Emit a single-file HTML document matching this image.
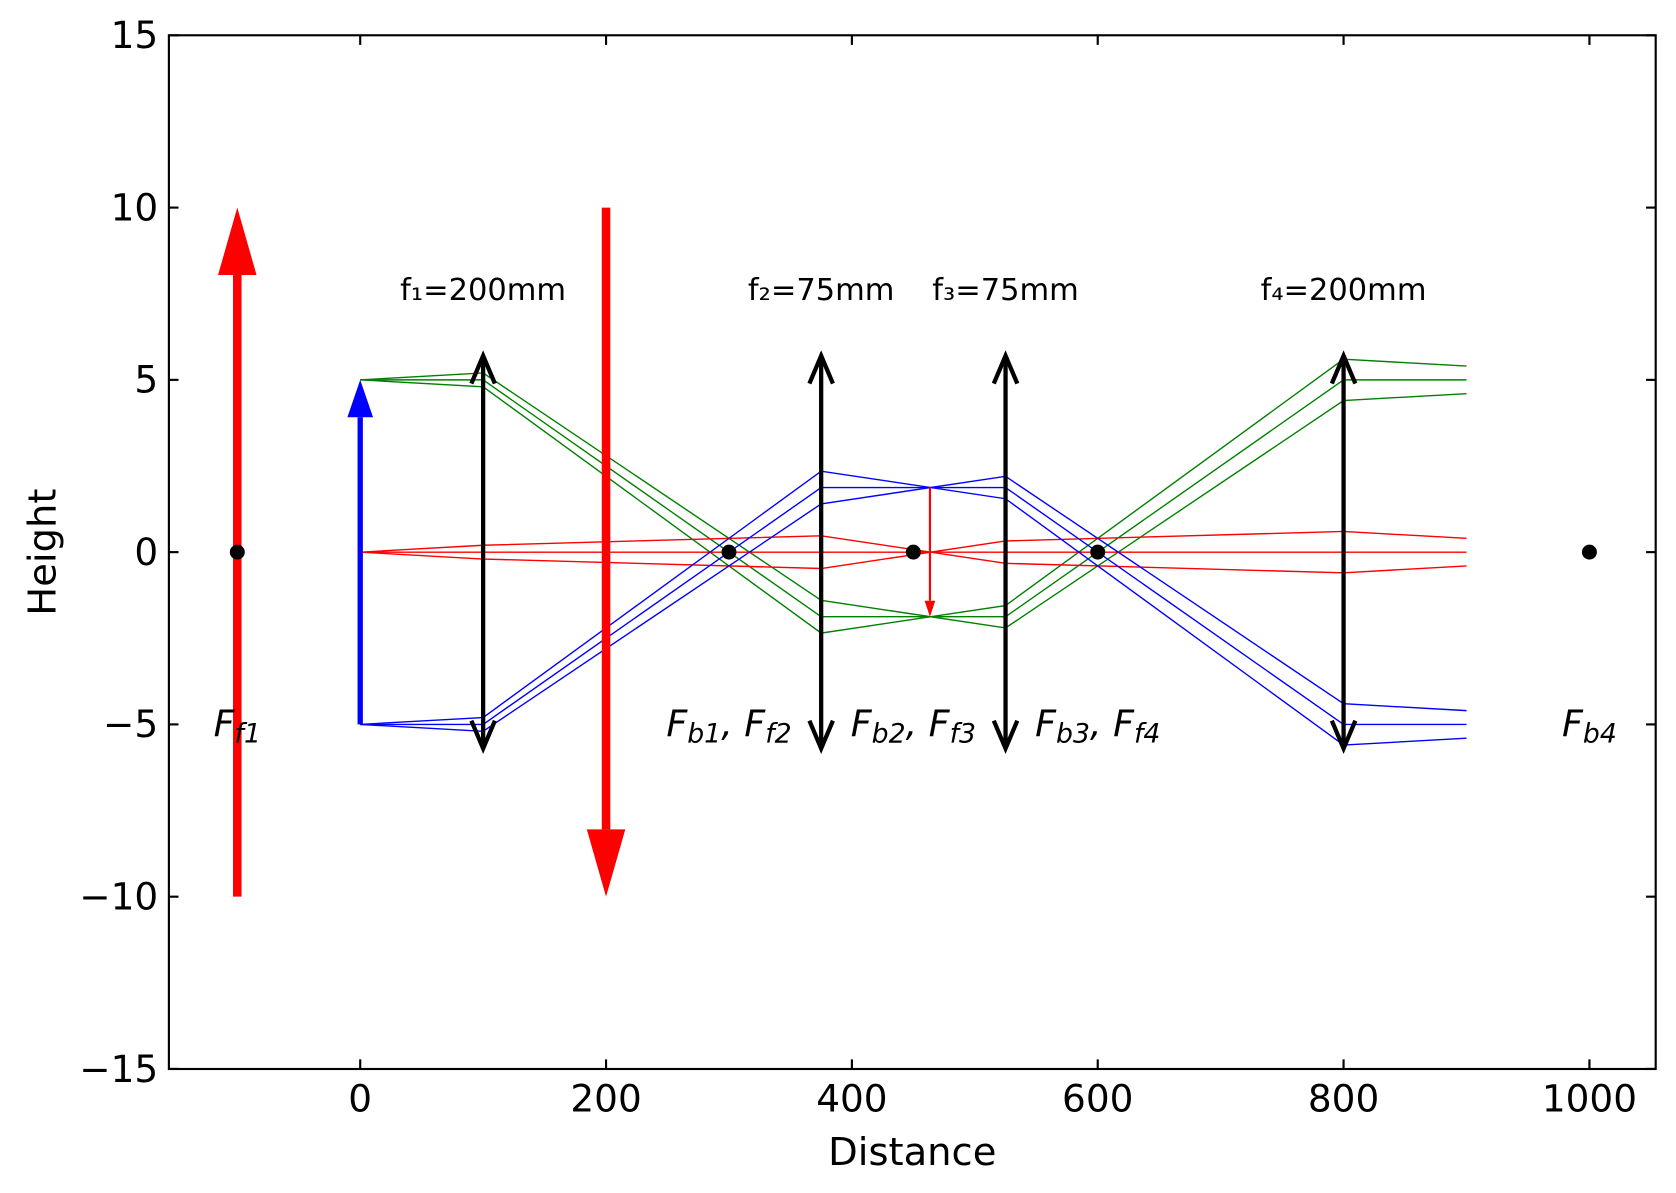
<!DOCTYPE html>
<html><head><meta charset="utf-8"><style>
body{margin:0;background:#fff;overflow:hidden}
svg{display:block}
svg text{font-family:"DejaVu Sans","Liberation Sans",sans-serif}
</style></head><body>
<svg id="chart" width="1676" height="1193" viewBox="0 0 1568 1116" preserveAspectRatio="none" xmlns="http://www.w3.org/2000/svg">
<rect width="1568" height="1116" fill="#fff"/>
<g id="plot"></g>
</svg>
<script>
const lensX=[100,375,525,800];
const lensF=[200,75,75,200];
const lensLabels=["f₁=200mm","f₂=75mm","f₃=75mm","f₄=200mm"];
const rayStartY=[5,0,-5];
const raySlopes=[0.002,0,-0.002];
const rayColors=["green","red","blue"];
const focalX=[-100,300,450,600,1000];
const xTicks=[0,200,400,600,800,1000];
const yTicks=[-15,-10,-5,0,5,10,15];
const rayEndX=900;

const L=158,R=1549,T=33,B=1000;
const X=x=>337+1.15*x;
const Y=y=>516.5-32.23*y;
const NS="http://www.w3.org/2000/svg";
const g=document.getElementById('plot');
function mk(tag,attrs,parent){const e=document.createElementNS(NS,tag);for(const k in attrs)e.setAttribute(k,attrs[k]);(parent||g).appendChild(e);return e;}

// rays
rayStartY.forEach((y0,i)=>{raySlopes.forEach(s0=>{
  let x=0,y=y0,s=s0,pts=[[X(0),Y(y0)]];
  lensX.forEach((lx,j)=>{y=y+s*(lx-x);x=lx;pts.push([X(x),Y(y)]);s=s-y/lensF[j];});
  y=y+s*(rayEndX-x);pts.push([X(rayEndX),Y(y)]);
  const p=mk('polyline',{points:pts.map(p=>p.join(',')).join(' '),fill:'none',stroke:rayColors[i],'stroke-width':1.3});
  
  
});});

// lenses
lensX.forEach((lx,j)=>{
  const x=X(lx),t=Y(5.7),b=Y(-5.7);
  const lg=mk('g',{stroke:'#000','stroke-width':4,fill:'none'});
  
  
  mk('line',{x1:x,y1:t+2,x2:x,y2:b-2},lg);
  mk('polyline',{points:`${x-11},${t+26} ${x},${t} ${x+11},${t+26}`},lg);
  mk('polyline',{points:`${x-11},${b-26} ${x},${b} ${x+11},${b-26}`},lg);
  const tx=mk('text',{x:x,y:Y(7.6)+9,'text-anchor':'middle','font-size':28.5});
  tx.textContent=lensLabels[j];
  
  
});

// arrows
function arrow(x,y1,y2,color,w,hw,hl,name){
  const dir=y2>y1?1:-1;
  const px=X(x),a=Y(y1),tip=Y(y2),base=tip+dir*hl;
  const ag=mk('g',{});
  
  
  mk('line',{x1:px,y1:a,x2:px,y2:base,stroke:color,'stroke-width':w},ag);
  mk('polygon',{points:`${px-hw},${base} ${px},${tip} ${px+hw},${base}`,fill:color},ag);
}
arrow(-100,-10,10,'red',8,18,63,'image-arrow-left');
arrow(200,10,-10,'red',8,18,63,'image-arrow-right');
arrow(0,-5,5,'blue',5,12,35,'object-arrow');
arrow(463.5,1.875,-1.875,'red',2,5,15,'intermediate-image-arrow');

// focal points
const flabels=[["F","f1"],["F","b1",", F","f2"],["F","b2",", F","f3"],["F","b3",", F","f4"],["F","b4"]];
focalX.forEach((fx,i)=>{
  const c=mk('circle',{cx:X(fx),cy:Y(0),r:7,fill:'#000'});
  
  
  const t=mk('text',{x:X(fx),y:Y(-5)+11,'text-anchor':'middle','font-size':34,'font-style':'italic'});
  
  
  const parts=flabels[i];
  for(let k=0;k<parts.length;k++){
    const sp=mk('tspan',{},t);
    if(k%2==1){sp.setAttribute('font-size',25);sp.setAttribute('dy',6);}
    else if(k>0){sp.setAttribute('dy',-6);}
    if(k==2){sp.textContent=", ";const s2=mk('tspan',{},t);s2.textContent="F";}
    else sp.textContent=parts[k];
  }
});

// axes frame
const fr=mk('rect',{x:L,y:T,width:R-L,height:B-T,fill:'none',stroke:'#000','stroke-width':2});


xTicks.forEach(v=>{
  const x=X(v);
  mk('line',{x1:x,y1:B,x2:x,y2:B-9,stroke:'#000','stroke-width':2});
  mk('line',{x1:x,y1:T,x2:x,y2:T+9,stroke:'#000','stroke-width':2});
  const t=mk('text',{x:x,y:B+40,'text-anchor':'middle','font-size':35});
  t.textContent=v;
  
  
});
yTicks.forEach(v=>{
  const y=Y(v);
  mk('line',{x1:L,y1:y,x2:L+9,y2:y,stroke:'#000','stroke-width':2});
  mk('line',{x1:R,y1:y,x2:R-9,y2:y,stroke:'#000','stroke-width':2});
  const t=mk('text',{x:L-10,y:y+12,'text-anchor':'end','font-size':35});
  t.textContent=v<0?'−'+Math.abs(v):v;
  
  
});
const xl=mk('text',{x:(L+R)/2,y:1090,'text-anchor':'middle','font-size':36});
xl.textContent='Distance';


const yl=mk('text',{x:0,y:0,'text-anchor':'middle','font-size':36,transform:`translate(52,${(T+B)/2}) rotate(-90)`});
yl.textContent='Height';


</script>
</body></html>
